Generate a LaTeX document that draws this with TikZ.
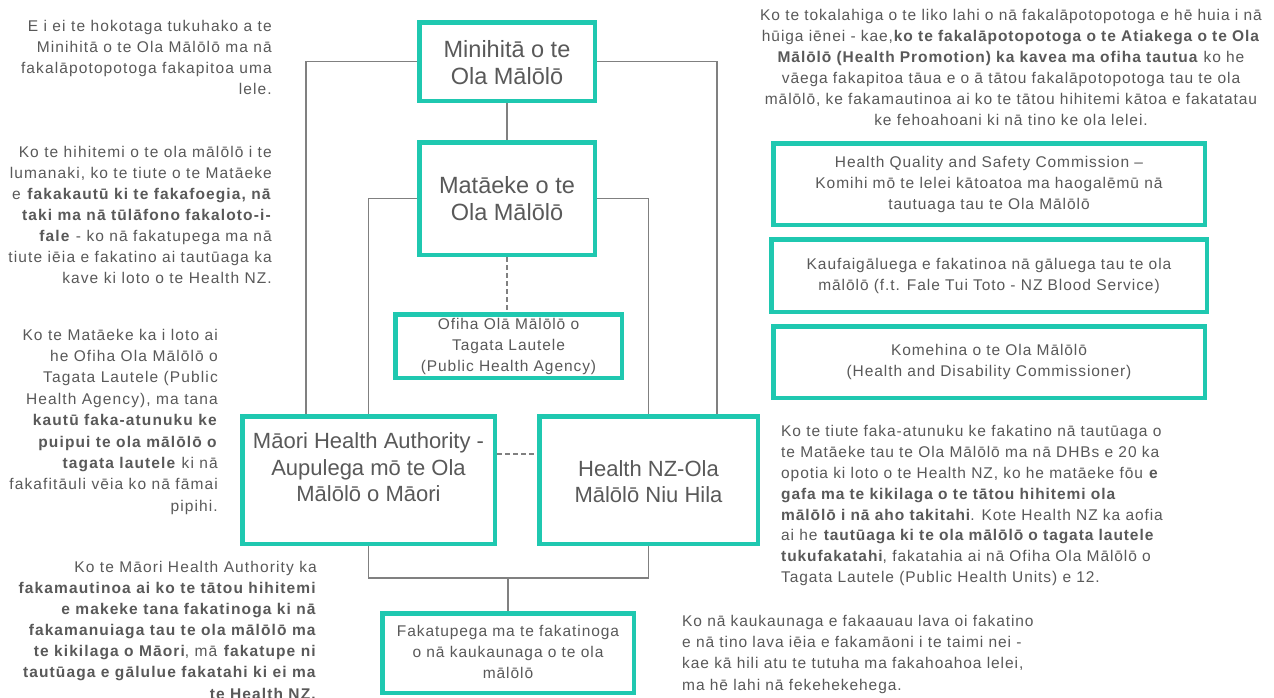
\documentclass[tikz,border=0pt]{standalone}
\usepackage{fontspec}
\setmainfont{Liberation Sans}[LetterSpace=6]
\newfontfamily\bigf{Liberation Sans}
\newfontfamily\leftf{Liberation Sans}[LetterSpace=7.2]
\usetikzlibrary{backgrounds}
\definecolor{teal1}{RGB}{31,200,176}
\definecolor{txt}{RGB}{89,89,89}
\definecolor{lnc}{RGB}{128,128,128}
\newcommand\smf{\fontsize{15.5}{21}\selectfont}
\begin{document}
\begin{tikzpicture}[x=1pt,y=-1pt,
  every node/.style={text=txt, inner sep=0pt},
  tbox/.style={draw=teal1, line width=4.5pt, align=center, font=\smf},
  bigbox/.style={tbox, font=\bigf\fontsize{23.5}{27}\selectfont},
  midbox/.style={tbox, font=\bigf\fontsize{22}{26.5}\selectfont},
  note/.style={font=\smf},
  lnote/.style={align=right, anchor=north east},
  conn/.style={draw=lnc, line width=1.8pt},
  dsh/.style={conn, dash pattern=on 5pt off 3pt}]
\path[use as bounding box] (0,0) rectangle (1274,697);
% boxes
\node[bigbox, minimum width=175.5, minimum height=78.5] (mini) at (507,61.5)
  {\strut\rule{0pt}{26.9pt}Minihitā o te\\\strut Ola Mālōlō};
\node[bigbox, minimum width=175.5, minimum height=112.5] (mata) at (507,198.5)
  {\strut\rule{0pt}{25.9pt}Matāeke o te\\\strut Ola Mālōlō};
\node[tbox, minimum width=226.5, minimum height=63.5] (ofiha) at (508.5,346)
  {\strut Ofiha Olā Mālōlō o\\\strut Tagata Lautele\\\strut (Public Health Agency)};
\node[midbox, minimum width=252.5, minimum height=127.5] (maori) at (368.5,480)
  {\strut Māori Health Authority -\\\strut Aupulega mō te Ola\\\strut Mālōlō o Māori\rule[-28pt]{0pt}{0pt}};
\node[midbox, minimum width=218.5, minimum height=127.5] (hnz) at (648.5,480)
  {\strut\rule{0pt}{26.5pt}Health NZ-Ola\\\strut Mālōlō Niu Hila};
\node[tbox, minimum width=251.5, minimum height=79.5] (faka) at (508,653)
  {\strut Fakatupega ma te fakatinoga\\\strut o nā kaukaunaga o te ola\\\strut mālōlō};
\node[tbox, minimum width=431.5, minimum height=81.5] (hqsc) at (989,184)
  {\strut Health Quality and Safety Commission –\\\strut Komihi mō te lelei kātoatoa ma haogalēmū nā\\\strut tautuaga tau te Ola Mālōlō};
\node[tbox, minimum width=435.5, minimum height=72.5] (kauf) at (989,275.5)
  {\strut Kaufaigāluega e fakatinoa nā gāluega tau te ola\\\strut mālōlō (f.t. Fale Tui Toto - NZ Blood Service)};
\node[tbox, minimum width=431.5, minimum height=71.5] (kome) at (989,362)
  {\strut Komehina o te Ola Mālōlō\\\strut (Health and Disability Commissioner)};
% notes
\node[lnote, font=\leftf\fontsize{15.5}{21}\selectfont] (n1) at (272,16.8)
  {\strut E i ei te hokotaga tukuhako a te\\\strut Minihitā o te Ola Mālōlō ma nā\\\strut fakalāpotopotoga fakapitoa uma\\\strut lele.};
\node[lnote, font=\leftf\fontsize{15.5}{21}\selectfont] (n2) at (272,142.3)
  {\strut Ko te hihitemi o te ola mālōlō i te\\\strut lumanaki, ko te tiute o te Matāeke\\\strut e \textbf{fakakautū ki te fakafoegia, nā}\\\strut \textbf{taki ma nā tūlāfono fakaloto-i-}\\\strut \textbf{fale} - ko nā fakatupega ma nā\\\strut tiute iēia e fakatino ai tautūaga ka\\\strut kave ki loto o te Health NZ.};
\node[lnote, font=\leftf\fontsize{15.5}{21.4}\selectfont] (n3) at (218,325)
  {\strut Ko te Matāeke ka i loto ai\\\strut he Ofiha Ola Mālōlō o\\\strut Tagata Lautele (Public\\\strut Health Agency), ma tana\\\strut \textbf{kautū faka-atunuku ke}\\\strut \textbf{puipui te ola mālōlō o}\\\strut \textbf{tagata lautele} ki nā\\\strut fakafitāuli vēia ko nā fāmai\\\strut pipihi.};
\node[lnote, font=\leftf\fontsize{15.5}{21.1}\selectfont] (n4) at (317,557.5)
  {\strut Ko te Māori Health Authority ka\\\strut \textbf{fakamautinoa ai ko te tātou hihitemi}\\\strut \textbf{e makeke tana fakatinoga ki nā}\\\strut \textbf{fakamanuiaga tau te ola mālōlō ma}\\\strut \textbf{te kikilaga o Māori}, mā \textbf{fakatupe ni}\\\strut \textbf{tautūaga e gālulue fakatahi ki ei ma}\\\strut \textbf{te Health NZ.}};
\node[note, align=center, anchor=north] (n5) at (1011,6)
  {\strut Ko te tokalahiga o te liko lahi o nā fakalāpotopotoga e hē huia i nā\\\strut hūiga iēnei - kae,\textbf{ko te fakalāpotopotoga o te Atiakega o te Ola}\\\strut \textbf{Mālōlō (Health Promotion) ka kavea ma ofiha tautua} ko he\\\strut vāega fakapitoa tāua e o ā tātou fakalāpotopotoga tau te ola\\\strut mālōlō, ke fakamautinoa ai ko te tātou hihitemi kātoa e fakatatau\\\strut ke fehoahoani ki nā tino ke ola lelei.};
\node[note, align=left, anchor=north west, font=\fontsize{15.5}{20.8}\selectfont] (n6) at (781,422.1)
  {\strut Ko te tiute faka-atunuku ke fakatino nā tautūaga o\\\strut te Matāeke tau te Ola Mālōlō ma nā DHBs e 20 ka\\\strut opotia ki loto o te Health NZ, ko he matāeke fōu \textbf{e}\\\strut \textbf{gafa ma te kikilaga o te tātou hihitemi ola}\\\strut \textbf{mālōlō i nā aho takitahi}. Kote Health NZ ka aofia\\\strut ai he \textbf{tautūaga ki te ola mālōlō o tagata lautele}\\\strut \textbf{tukufakatahi}, fakatahia ai nā Ofiha Ola Mālōlō o\\\strut Tagata Lautele (Public Health Units) e 12.};
\node[note, align=left, anchor=north west, font=\fontsize{15.5}{21.3}\selectfont] (n7) at (682,611.1)
  {\strut Ko nā kaukaunaga e fakaauau lava oi fakatino\\\strut e nā tino lava iēia e fakamāoni i te taimi nei -\\\strut kae kā hili atu te tutuha ma fakahoahoa lelei,\\\strut ma hē lahi nā fekehekehega.};
% connectors
\coordinate (oL) at (306,0);
\coordinate (oR) at (717,0);
\coordinate (jn) at (508,578);
\begin{pgfonlayer}{background}
\fill[white] (0,0) rectangle (1274,697);
\draw[conn] (mini.south) -- (mata.north);
\draw[conn] (mini.west) -| (maori.north -| oL);
\draw[conn] (mini.east) -| (hnz.north -| oR);
\draw[conn] (mata.west) -| (maori.north);
\draw[conn] (mata.east) -| (hnz.north);
\draw[dsh] (mata.south) -- (mata.south |- ofiha.north);
\draw[dsh] ([yshift=26pt]maori.east) -- ([yshift=26pt]hnz.west);
\draw[conn] (maori.south) -- (maori.south |- jn) -- (hnz.south |- jn) -- (hnz.south);
\draw[conn] (jn) -- (faka.north);
\end{pgfonlayer}
\end{tikzpicture}
\end{document}
